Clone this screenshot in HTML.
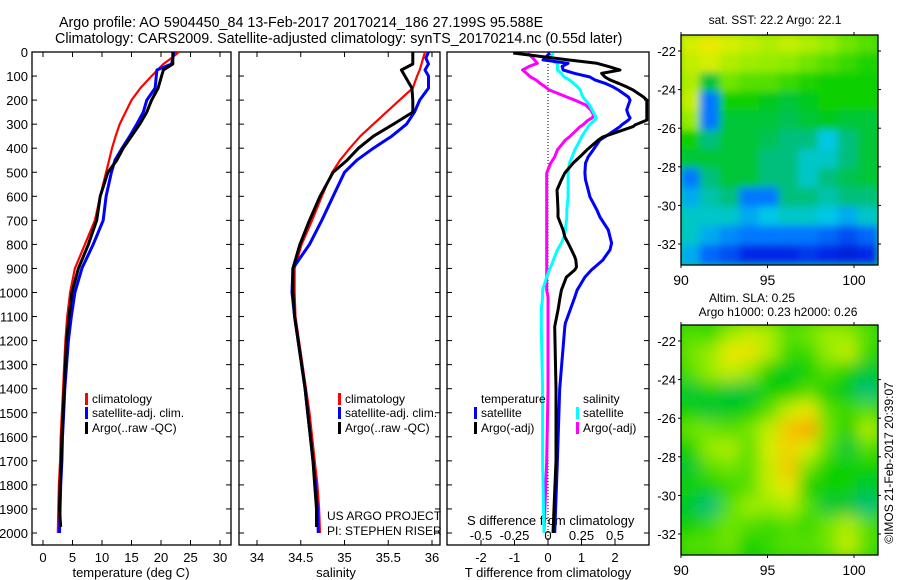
<!DOCTYPE html>
<html><head><meta charset="utf-8"><style>
html,body{margin:0;padding:0;background:#fff;}
svg{display:block;font-family:"Liberation Sans",sans-serif;}
</style></head><body>
<svg id="fig" width="900" height="580" viewBox="0 0 900 580" xmlns="http://www.w3.org/2000/svg">
<rect width="900" height="580" fill="#fff"/>
<text x="59" y="27" font-size="14.3">Argo profile: AO 5904450_84 13-Feb-2017 20170214_186 27.199S 95.588E</text>
<text x="55" y="43" font-size="14.3">Climatology: CARS2009. Satellite-adjusted climatology: synTS_20170214.nc (0.55d later)</text>
<g id="g"></g>
</svg>
<script>
// depth grids
const depthsUpper=[0,25,50,75,100,150,200,250,300,350,400,450,500,600,700,800,900,1000,1100,1200,1300,1400,1500,1600,1700,1800,1900,2000];
const tempClim=[23,21.8,20.4,19.4,18.4,16.5,15,14,13,12.3,11.7,11.2,10.7,9.7,8.8,7.1,5.4,4.6,4.1,3.8,3.6,3.4,3.2,3.0,2.9,2.7,2.6,2.5];
const tempSat=[22.2,22,21.8,19.3,19.2,19,17.6,17,15.9,14.7,13.4,12.2,11.6,10.7,10.2,8.5,6.6,5.4,4.8,4.3,4.0,3.7,3.5,3.3,3.2,3.0,2.9,2.8];
const tempArgo=[22,22,22,20.4,20.1,19.5,18.4,17.6,16.4,15,13.6,12.5,11,9.7,9.1,7.7,6,4.9,4.4,4.0,3.8,3.6,3.4,3.2,3.1,2.9,2.8,2.9];
const salClim=[35.92,35.9,35.88,35.86,35.83,35.78,35.63,35.48,35.33,35.18,35.06,34.95,34.86,34.74,34.63,34.51,34.43,34.43,34.44,34.48,34.52,34.56,34.6,34.63,34.66,34.69,34.71,34.72];
const salSat=[35.96,35.93,35.96,35.92,35.96,35.96,35.86,35.8,35.71,35.54,35.33,35.14,35.0,34.87,34.74,34.6,34.41,34.4,34.43,34.47,34.51,34.55,34.58,34.61,34.64,34.67,34.69,34.70];
const salArgo=[35.78,35.78,35.78,35.65,35.69,35.77,35.78,35.78,35.56,35.33,35.16,35.03,34.87,34.72,34.6,34.49,34.41,34.41,34.43,34.47,34.51,34.55,34.58,34.61,34.64,34.66,34.68,34.68];
const diffDepths=[4,33,47,60,75,89,104,116,130,145,158,187,200,220,241,262,274,283,303,310,353,366,407,436,462,503,532,574,602,657,686,740,769,794,823,852,865,894,906,936,990,1019,1073,1127,1143,1400,1700,2000];
const dTArgo=[-1.04,0.6,1.46,1.8,2.15,1.6,1.7,1.85,2.1,2.35,2.54,2.85,2.95,2.95,2.95,2.95,2.95,2.95,2.6,2.54,1.64,1.5,1.16,0.95,0.75,0.5,0.4,0.27,0.28,0.3,0.3,0.45,0.5,0.6,0.7,0.8,0.83,0.85,0.8,0.55,0.4,0.36,0.3,0.22,0.2,0.24,0.24,0.15];
const dTSat=[0.06,-0.15,0.6,0.42,0.45,0.8,1.25,1.4,1.7,1.94,2.1,2.4,2.45,2.4,2.35,2.4,2.45,2.4,2.2,2.15,1.7,1.55,1.35,1.2,1.12,1.1,1.12,1.2,1.25,1.46,1.55,1.8,1.85,1.9,1.85,1.7,1.64,1.4,1.3,1.1,0.87,0.8,0.66,0.52,0.5,0.35,0.28,0.2];
const dSSat=[0.04,0.01,0.07,0.07,0.07,0.1,0.12,0.16,0.19,0.22,0.24,0.26,0.28,0.31,0.33,0.35,0.36,0.35,0.31,0.3,0.25,0.24,0.2,0.18,0.16,0.15,0.15,0.15,0.15,0.14,0.14,0.13,0.12,0.1,0.07,0.05,0.04,0.02,0.01,-0.01,-0.04,-0.04,-0.05,-0.05,-0.05,-0.04,-0.04,-0.03];
const dSArgo=[-0.15,-0.1,-0.08,-0.14,-0.19,-0.16,-0.13,-0.09,-0.06,-0.02,0.01,0.14,0.2,0.28,0.32,0.34,0.33,0.3,0.26,0.24,0.16,0.13,0.07,0.05,0.02,-0.01,-0.01,-0.01,-0.01,-0.01,-0.01,-0.01,-0.01,-0.01,-0.01,-0.01,-0.01,-0.01,-0.01,-0.01,-0.01,0,0,0,0,0,-0.01,-0.03];
const depthTicks=[0,100,200,300,400,500,600,700,800,900,1000,1100,1200,1300,1400,1500,1600,1700,1800,1900,2000];
const tempTicks=[0,5,10,15,20,25,30];
const salTicks=[34,34.5,35,35.5,36];
const salTickLabels=["34","34.5","35","35.5","36"];
const dTTicks=[-2,-1,0,1,2];
const dSTicks=[-0.5,-0.25,0,0.25,0.5];
const lonTicks=[90,95,100];
const latTicks=[-22,-24,-26,-28,-30,-32];
const sstGrid=[
[.72,.75,.72,.7,.68,.7,.68,.65,.62,.6],
[.7,.72,.68,.66,.65,.64,.62,.6,.58,.56],
[.68,.5,.62,.6,.6,.58,.56,.55,.55,.55],
[.7,.3,.55,.55,.52,.5,.52,.55,.55,.55],
[.65,.3,.5,.5,.5,.48,.5,.52,.5,.5],
[.55,.45,.5,.5,.48,.45,.45,.38,.45,.5],
[.5,.5,.5,.5,.45,.45,.4,.4,.45,.5],
[.3,.45,.5,.5,.45,.45,.4,.45,.48,.5],
[.35,.42,.45,.3,.3,.45,.45,.42,.45,.45],
[.4,.4,.4,.35,.38,.4,.4,.38,.35,.4],
[.4,.35,.32,.3,.3,.3,.3,.28,.25,.28],
[.35,.28,.25,.2,.2,.2,.22,.2,.18,.2]];
const slaGrid=[
[.6,.58,.65,.7,.68,.6,.62,.66,.65,.6],
[.62,.65,.75,.76,.68,.58,.58,.65,.7,.58],
[.6,.65,.7,.65,.55,.52,.55,.6,.55,.5],
[.5,.55,.5,.5,.55,.55,.6,.55,.52,.45],
[.55,.5,.52,.55,.6,.7,.75,.6,.58,.6],
[.62,.62,.6,.62,.7,.8,.85,.62,.55,.68],
[.55,.65,.68,.6,.72,.78,.72,.6,.5,.6],
[.5,.6,.62,.6,.7,.8,.62,.55,.55,.55],
[.55,.55,.58,.6,.7,.75,.55,.55,.55,.5],
[.5,.45,.6,.66,.65,.68,.6,.5,.5,.45],
[.55,.58,.62,.6,.58,.6,.58,.62,.68,.6],
[.6,.6,.62,.55,.58,.6,.6,.62,.7,.6]];

const NS="http://www.w3.org/2000/svg";
const G=document.getElementById('g');
function mk(tag,at,parent){const e=document.createElementNS(NS,tag);for(const k in at)e.setAttribute(k,at[k]);(parent||G).appendChild(e);return e;}
const yD=d=>52+d*0.2405;
const xT=t=>43+t*5.9;
const xS=s=>257+(s-34)*87.5;
const xDT=v=>548+v*33.5;
const xDS=v=>548+v*134;
const TOP=52,BOT=545;

function panel(x0,x1,name){
  const r=mk('rect',{x:x0,y:TOP,width:x1-x0,height:BOT-TOP,fill:'none',stroke:'#000','stroke-width':1.3});
  
  
  depthTicks.forEach(d=>{mk('line',{x1:x0,x2:x0+5,y1:yD(d),y2:yD(d),stroke:'#000'});mk('line',{x1:x1,x2:x1-5,y1:yD(d),y2:yD(d),stroke:'#000'});});
}
function line(xs,ds,xf,color,w,name){
  const p=ds.map((d,i)=>(i?'L':'M')+xf(xs[i]).toFixed(1)+' '+yD(d).toFixed(1)).join('');
  const e=mk('path',{d:p,fill:'none',stroke:color,'stroke-width':w,'stroke-linejoin':'round'});
  
  
}
function txt(x,y,s,opt,name){
  const e=mk('text',Object.assign({x:x,y:y,'font-size':13},opt||{}));e.textContent=s;
  
  
  return e;
}
panel(32,231,'temperature-panel');
panel(239,440,'salinity-panel');
panel(447,649,'difference-panel');
depthTicks.forEach(d=>txt(28,yD(d)+5,String(d),{'text-anchor':'end'},'depth-tick-label'));
tempTicks.forEach(t=>{mk('line',{x1:xT(t),x2:xT(t),y1:BOT,y2:BOT-5,stroke:'#000'});mk('line',{x1:xT(t),x2:xT(t),y1:TOP,y2:TOP+5,stroke:'#000'});txt(xT(t),562,String(t),{'text-anchor':'middle'},'temperature-tick-label');});
salTicks.forEach((s,i)=>{mk('line',{x1:xS(s),x2:xS(s),y1:BOT,y2:BOT-5,stroke:'#000'});mk('line',{x1:xS(s),x2:xS(s),y1:TOP,y2:TOP+5,stroke:'#000'});txt(xS(s),562,salTickLabels[i],{'text-anchor':'middle'},'salinity-tick-label');});
dTTicks.forEach(t=>{mk('line',{x1:xDT(t),x2:xDT(t),y1:BOT,y2:BOT-5,stroke:'#000'});txt(xDT(t),562,String(t),{'text-anchor':'middle'},'t-diff-tick-label');});
dSTicks.forEach(t=>txt(xDS(t),540,String(t),{'text-anchor':'middle'},'s-diff-tick-label'));
txt(131,577,'temperature (deg C)',{'text-anchor':'middle'},'temperature-axis-title');
txt(336,577,'salinity',{'text-anchor':'middle'},'salinity-axis-title');
txt(548,577,'T difference from climatology',{'text-anchor':'middle'},'t-diff-axis-title');
txt(467,525,'S difference from climatology',{},'s-diff-axis-title');
mk('line',{x1:548,x2:548,y1:TOP,y2:BOT,stroke:'#000','stroke-dasharray':'1,2'});
line(tempClim,depthsUpper,xT,'#f00',2.2,'temperature-climatology-line');
line(tempSat,depthsUpper,xT,'#00f',3,'temperature-satellite-line');
line(tempArgo.slice(0,-1).concat([3.0]),depthsUpper.slice(0,-1).concat([1975]),xT,'#000',3,'temperature-argo-line');
line(salClim,depthsUpper,xS,'#f00',2.2,'salinity-climatology-line');
line(salSat,depthsUpper,xS,'#00f',3,'salinity-satellite-line');
line(salArgo.slice(0,-1).concat([34.68]),depthsUpper.slice(0,-1).concat([1975]),xS,'#000',3,'salinity-argo-line');
line(dSArgo,diffDepths,xDS,'#f0f',3,'s-diff-argo-line');
line(dSSat,diffDepths,xDS,'#0ff',3,'s-diff-satellite-line');
line(dTSat,diffDepths,xDT,'#00f',3,'t-diff-satellite-line');
line(dTArgo,diffDepths,xDT,'#000',3,'t-diff-argo-line');
function leg(x,y,c,s,name){const r=mk('rect',{x:x,y:y-10,width:3,height:12,fill:c});txt(x+7,y,s,{'font-size':12},name);}
leg(85,403,'#f00','climatology','legend-climatology');
leg(85,417,'#00f','satellite-adj. clim.','legend-satellite');
leg(85,432,'#000','Argo(..raw -QC)','legend-argo');
leg(338,403,'#f00','climatology','legend-sal-climatology');
leg(338,417,'#00f','satellite-adj. clim.','legend-sal-satellite');
leg(338,432,'#000','Argo(..raw -QC)','legend-sal-argo');
txt(481,403,'temperature',{'font-size':12},'legend-temperature-heading');
txt(583,403,'salinity',{'font-size':12},'legend-salinity-heading');
leg(474,417,'#00f','satellite','legend-t-satellite');
leg(474,432,'#000','Argo(-adj)','legend-t-argo');
leg(576,417,'#0ff','satellite','legend-s-satellite');
leg(576,432,'#f0f','Argo(-adj)','legend-s-argo');
txt(327,520,'US ARGO PROJECT',{'font-size':12},'project-label');
txt(327,535,'PI: STEPHEN RISER',{'font-size':12},'pi-label');

function cmap(v){const st=[[0,[0,0,140]],[0.2,[0,40,230]],[0.3,[0,120,255]],[0.38,[0,200,230]],[0.46,[0,190,110]],[0.54,[0,205,0]],[0.64,[140,235,0]],[0.74,[230,240,0]],[0.84,[255,170,0]],[1,[230,60,0]]];
 for(let i=1;i<st.length;i++){if(v<=st[i][0]){const a=st[i-1],b=st[i],f=(v-a[0])/(b[0]-a[0]);return 'rgb('+a[1].map((c,k)=>Math.round(c+(b[1][k]-c)*f)).join(',')+')';}}return 'rgb(230,60,0)';}
function map(y0,grid,name,blur){
  const x0=681,x1=878,y1=y0+230;
  const lonX=l=>681+(l-90)*17.3;
  const latY=a=>y0+16+(-22-a)*19.3;
  const defs=mk('defs',{});
  const cp=mk('clipPath',{id:'cp'+name},defs);mk('rect',{x:x0,y:y0,width:x1-x0,height:y1-y0},cp);
  const f=mk('filter',{id:'bl'+name,x:'-10%',y:'-10%',width:'120%',height:'120%'},defs);mk('feGaussianBlur',{stdDeviation:blur},f);
  const g=mk('g',{'clip-path':'url(#cp'+name+')'});
  
  
  const inner=mk('g',{filter:'url(#bl'+name+')'},g);
  const nr=grid.length,nc=grid[0].length,cw=(x1-x0)/nc,ch=(y1-y0)/nr;
  mk('rect',{x:x0-20,y:y0-20,width:x1-x0+40,height:y1-y0+40,fill:cmap(0.55)},inner);
  grid.forEach((row,r)=>row.forEach((v,c)=>{
    const e=mk('rect',{x:x0+c*cw-1,y:y0+r*ch-1,width:cw+2,height:ch+2,fill:cmap(v)},inner);
    
    
  }));
  mk('rect',{x:x0,y:y0,width:x1-x0,height:y1-y0,fill:'none',stroke:'#000','stroke-width':1.3});
  latTicks.forEach(a=>{mk('line',{x1:x0-3,x2:x0,y1:latY(a),y2:latY(a),stroke:'#000'});mk('line',{x1:x1,x2:x1+3,y1:latY(a),y2:latY(a),stroke:'#000'});txt(x0-5,latY(a)+5,String(a),{'text-anchor':'end'},'lat-tick-label');});
  lonTicks.forEach(l=>{mk('line',{x1:lonX(l),x2:lonX(l),y1:y1,y2:y1+3,stroke:'#000'});mk('line',{x1:lonX(l),x2:lonX(l),y1:y0,y2:y0-3,stroke:'#000'});txt(lonX(l),y1+20,String(l),{'text-anchor':'middle','font-size':14},'lon-tick-label');});
}
map(35,sstGrid,'sst-map',4);
map(325,slaGrid,'sla-map',8);
txt(775,24,'sat. SST: 22.2 Argo: 22.1',{'text-anchor':'middle','font-size':12},'sst-map-title');
txt(752,302,'Altim. SLA: 0.25',{'text-anchor':'middle','font-size':12},'sla-map-title');
txt(778,316,'Argo h1000: 0.23 h2000: 0.26',{'text-anchor':'middle','font-size':12},'sla-map-subtitle');
txt(0,0,'©IMOS 21-Feb-2017 20:39:07',{'text-anchor':'middle','font-size':12,transform:'translate(893,463) rotate(-90)'},'imos-timestamp');
</script>
</body></html>
